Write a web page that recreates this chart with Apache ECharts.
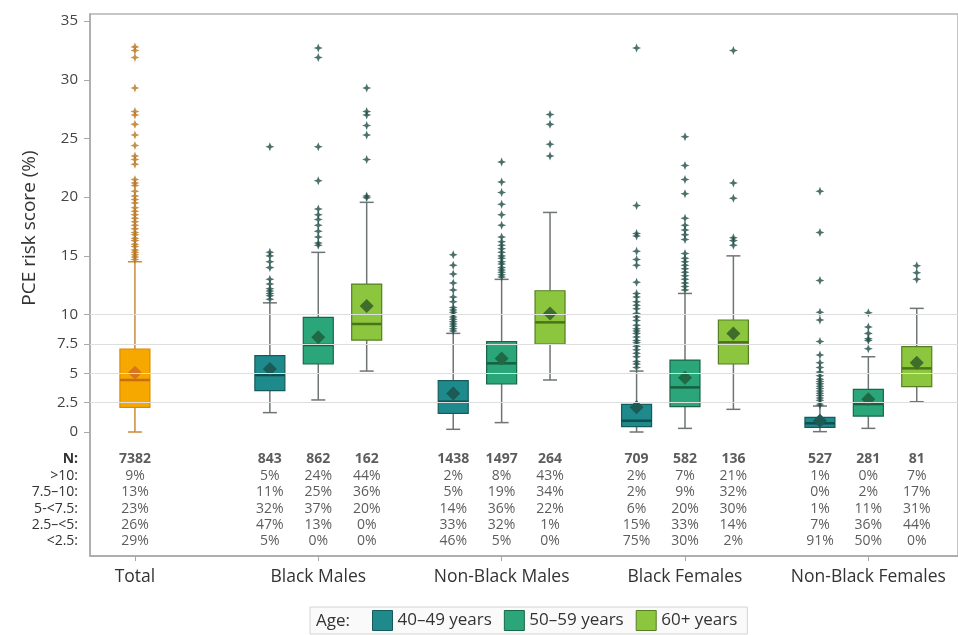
<!DOCTYPE html>
<html>
<head>
<meta charset="utf-8">
<script src="https://cdn.jsdelivr.net/npm/echarts@6/dist/echarts.min.js"></script>
<style>
  html, body { margin: 0; padding: 0; background: #fff; }
  #chart { width: 958px; height: 635px; }
</style>
</head>
<body>
<div id="chart"></div>
<script>
// groups on the x axis
const groups = ['Total', 'Black Males', 'Non-Black Males', 'Black Females', 'Non-Black Females'];
const ageNames = ['40–49 years', '50–59 years', '60+ years'];

// box stats: [low whisker, q1, median, q3, high whisker, mean]
const totalBox = [0.0, 2.1, 4.43, 7.07, 14.5, 5.05];
const age40Boxes = [
  [1.65, 3.52, 4.85, 6.5, 11.0, 5.36],
  [0.23, 1.59, 2.58, 4.37, 8.4, 3.29],
  [0.0, 0.45, 0.96, 2.36, 5.19, 2.1],
  [0.03, 0.4, 0.74, 1.25, 2.21, 0.96]
];
const age50Boxes = [
  [2.73, 5.79, 7.41, 9.77, 15.3, 8.06],
  [0.8, 4.09, 5.85, 7.69, 13.0, 6.27],
  [0.31, 2.16, 3.8, 6.13, 11.8, 4.62],
  [0.31, 1.36, 2.38, 3.63, 6.41, 2.78]
];
const age60Boxes = [
  [5.19, 7.83, 9.2, 12.6, 19.56, 10.73],
  [4.43, 7.49, 9.34, 12.03, 18.7, 10.1],
  [1.93, 5.79, 7.64, 9.54, 15.0, 8.4],
  [2.58, 3.86, 5.42, 7.27, 10.53, 5.9]
];

// outliers
const totalOut = [14.7, 14.9, 15.1, 15.3, 15.5, 15.8, 16.0, 16.3, 16.5, 16.8, 17.0, 17.3, 17.6, 17.9, 18.2, 18.5, 18.8, 19.1, 19.5, 19.8, 20.1, 20.5, 21.0, 21.2, 21.5, 22.8, 23.2, 23.5, 24.4, 25.3, 26.2, 27.0, 27.3, 29.3, 31.9, 32.5, 32.8];
const age40Out = [
  [11.3, 11.6, 11.8, 12.0, 12.2, 12.6, 13.0, 14.0, 14.5, 15.0, 15.3, 24.3],
  [8.6, 8.8, 9.0, 9.2, 9.4, 9.6, 9.8, 10.0, 10.2, 10.4, 10.6, 11.1, 11.5, 12.1, 12.7, 13.45, 14.2, 15.1],
  [5.5, 5.8, 6.0, 6.4, 6.7, 7.0, 7.3, 7.6, 7.8, 8.1, 8.4, 8.6, 8.8, 9.1, 9.5, 9.8, 10.1, 10.5, 10.8, 11.1, 11.5, 11.8, 12.75, 14.2, 14.7, 15.4, 16.7, 16.9, 19.3, 32.7],
  [2.3, 2.5, 2.7, 2.9, 3.1, 3.3, 3.5, 3.7, 3.9, 4.1, 4.3, 4.5, 4.8, 5.1, 5.5, 5.9, 6.56, 7.7, 9.54, 10.2, 12.9, 17.0, 20.5]
];
const age50Out = [
  [15.9, 16.1, 16.6, 17.1, 17.6, 18.1, 18.5, 19.0, 21.4, 24.3, 31.9, 32.7],
  [13.2, 13.4, 13.6, 13.8, 14.0, 14.3, 14.5, 14.8, 15.0, 15.3, 15.6, 15.9, 16.2, 16.6, 17.6, 18.5, 19.4, 20.4, 21.3, 23.0],
  [12.1, 12.4, 12.7, 13.0, 13.3, 13.6, 13.9, 14.2, 14.5, 14.8, 15.2, 16.4, 16.8, 17.2, 17.6, 18.2, 20.3, 21.5, 22.7, 25.15],
  [7.1, 7.8, 7.95, 8.4, 8.95, 10.16]
];
const age60Out = [
  [19.95, 20.1, 23.2, 25.3, 26.1, 27.0, 27.3, 29.3],
  [23.5, 24.5, 26.2, 27.05],
  [15.9, 16.3, 16.55, 19.9, 21.2, 32.5],
  [13.0, 13.56, 14.16]
];

// table below the boxes (box order: Total, then 3 ages per group)
const rowLabels = ['N:', '>10:', '7.5–10:', '5-<7.5:', '2.5–<5:', '<2.5:'];
const nCounts = [7382, 843, 862, 162, 1438, 1497, 264, 709, 582, 136, 527, 281, 81];
const pctGt10 = [9, 5, 24, 44, 2, 8, 43, 2, 7, 21, 1, 0, 7];
const pct75to10 = [13, 11, 25, 36, 5, 19, 34, 2, 9, 32, 0, 2, 17];
const pct5to75 = [23, 32, 37, 20, 14, 36, 22, 6, 20, 30, 1, 11, 31];
const pct25to5 = [26, 47, 13, 0, 33, 32, 1, 15, 33, 14, 7, 36, 44];
const pctLt25 = [29, 5, 0, 0, 46, 5, 0, 75, 30, 2, 91, 50, 0];

const yTicks = [0, 2.5, 5, 7.5, 10, 15, 20, 25, 30, 35];
const refLines = [2.5, 5, 7.5, 10];

// layout
const ageOffset = 0.264;
const tableRowY = [-2.3, -3.75, -5.13, -6.54, -7.92, -9.3];
const FONT = '"Open Sans", "Noto Sans", sans-serif';

const styles = {
  total: { fill: '#f6a800', border: '#d98c00', whisker: '#c98a3c', median: '#c46f0a', mean: '#d7761c', out: '#b8761f' },
  a40: { fill: '#1f8a8c', border: '#155b5c', whisker: '#6e7572', median: '#134e4e', mean: '#1b5a55', out: '#1f4c46' },
  a50: { fill: '#2aa67a', border: '#186747', whisker: '#6e7572', median: '#166041', mean: '#1f6a45', out: '#1f4c46' },
  a60: { fill: '#8cc63e', border: '#577f22', whisker: '#6e7572', median: '#4b7419', mean: '#3f6d2a', out: '#1f4c46' }
};

const boxX = (g, a) => g + (a - 1) * ageOffset;

const star = 'path://M0,-10 L2.8,-2.8 L10,0 L2.8,2.8 L0,10 L-2.8,2.8 L-10,0 L-2.8,-2.8 Z';

function makeRender(st) {
  return function (params, api) {
    const x = api.value(0);
    const low = api.coord([x, api.value(1)]);
    const q1 = api.coord([x, api.value(2)]);
    const med = api.coord([x, api.value(3)]);
    const q3 = api.coord([x, api.value(4)]);
    const high = api.coord([x, api.value(5)]);
    const mean = api.coord([x, api.value(6)]);
    const cx = low[0];
    const hw = 15, cap = 7, dm = 7;
    const wStyle = { stroke: st.whisker, lineWidth: 1.5 };
    return {
      type: 'group',
      children: [
        { type: 'line', shape: { x1: cx, y1: low[1], x2: cx, y2: q1[1] }, style: wStyle },
        { type: 'line', shape: { x1: cx, y1: q3[1], x2: cx, y2: high[1] }, style: wStyle },
        { type: 'line', shape: { x1: cx - cap, y1: low[1], x2: cx + cap, y2: low[1] }, style: wStyle },
        { type: 'line', shape: { x1: cx - cap, y1: high[1], x2: cx + cap, y2: high[1] }, style: wStyle },
        { type: 'rect', shape: { x: cx - hw, y: q3[1], width: hw * 2, height: q1[1] - q3[1] },
          style: { fill: st.fill, stroke: st.border, lineWidth: 1.2 } },
        { type: 'line', shape: { x1: cx - hw, y1: med[1], x2: cx + hw, y2: med[1] },
          style: { stroke: st.median, lineWidth: 2.5 } },
        { type: 'polygon', shape: { points: [[cx, mean[1] - dm], [cx + dm, mean[1]], [cx, mean[1] + dm], [cx - dm, mean[1]]] },
          style: { fill: st.mean } }
      ]
    };
  };
}

function boxSeries(name, st, data) {
  return {
    name: name,
    type: 'custom',
    renderItem: makeRender(st),
    itemStyle: { color: st.fill, borderColor: st.border },
    encode: { x: 0, y: [1, 2, 3, 4, 5] },
    data: data,
    z: 3
  };
}

function outSeries(name, st, data) {
  return {
    name: name,
    type: 'scatter',
    symbol: star,
    symbolSize: 9,
    itemStyle: { color: st.out },
    data: data,
    z: 4
  };
}

const totalData = [[0].concat(totalBox)];
const ageData = (boxes, a) => boxes.map((b, i) => [boxX(i + 1, a)].concat(b));
const outData = (lists, a) => lists.flatMap((l, i) => l.map(v => [boxX(i + 1, a), v]));

// table cells
const boxXs = [0];
for (let g = 1; g <= 4; g++) for (let a = 0; a < 3; a++) boxXs.push(boxX(g, a));
const tableRows = [nCounts.map(String), pctGt10, pct75to10, pct5to75, pct25to5, pctLt25];
const tableData = [];
tableRows.forEach((row, r) => {
  row.forEach((v, i) => {
    tableData.push({ value: [boxXs[i], tableRowY[r]], text: r === 0 ? '{b|' + v + '}' : v + '%' });
  });
});

const chart = echarts.init(document.getElementById('chart'), null, { renderer: 'canvas' });

chart.setOption({
  animation: false,
  textStyle: { fontFamily: FONT },
  grid: {
    left: 90, right: -3, top: 14, bottom: 79,
    show: true, borderColor: '#b4b4b4', borderWidth: 1.5, backgroundColor: 'transparent'
  },
  xAxis: {
    type: 'value',
    min: -0.245,
    max: 4.489,
    splitLine: { show: false },
    axisLine: { onZero: false, lineStyle: { color: '#a8a8a8', width: 1.5 } },
    axisTick: { customValues: [0, 1, 2, 3, 4], length: 5, lineStyle: { color: '#a8a8a8' } },
    axisLabel: {
      customValues: [0, 1, 2, 3, 4],
      formatter: v => groups[Math.round(v)],
      fontSize: 17.5, color: '#333', margin: 12, fontFamily: FONT
    }
  },
  yAxis: {
    type: 'value',
    min: -10.56,
    max: 35.6,
    splitLine: { show: false },
    axisLine: { show: true, onZero: false, lineStyle: { color: '#a8a8a8', width: 1.5 } },
    axisTick: { show: true, customValues: yTicks, length: 6, lineStyle: { color: '#a8a8a8' } },
    axisLabel: {
      customValues: yTicks.concat(tableRowY),
      formatter: function (v) {
        const i = tableRowY.indexOf(v);
        if (i === 0) return '{b|' + rowLabels[0] + '}';
        if (i > 0) return '{t|' + rowLabels[i] + '}';
        return String(v);
      },
      fontSize: 15, color: '#444', margin: 12, fontFamily: FONT,
      rich: {
        b: { fontSize: 14, fontWeight: 'bold', color: '#333', fontFamily: FONT },
        t: { fontSize: 14, color: '#333', fontFamily: FONT }
      }
    }
  },
  legend: {
    left: 310,
    top: 607,
    orient: 'horizontal',
    backgroundColor: '#fafafa',
    borderColor: '#d4d4d4',
    borderWidth: 1,
    padding: [3, 10, 3, 62],
    itemWidth: 20,
    itemHeight: 20,
    itemGap: 12,
    icon: 'rect',
    textStyle: { fontSize: 17, color: '#333', fontFamily: FONT },
    data: [
      { name: ageNames[0], itemStyle: { color: styles.a40.fill, borderColor: styles.a40.border, borderWidth: 1 } },
      { name: ageNames[1], itemStyle: { color: styles.a50.fill, borderColor: styles.a50.border, borderWidth: 1 } },
      { name: ageNames[2], itemStyle: { color: styles.a60.fill, borderColor: styles.a60.border, borderWidth: 1 } }
    ]
  },
  graphic: [
    {
      type: 'text', x: 30, y: 228, rotation: Math.PI / 2, z: 100,
      style: { text: 'PCE risk score (%)', fontSize: 19, fill: '#333', fontFamily: FONT, align: 'center', verticalAlign: 'middle' }
    },
    {
      type: 'text', x: 316, y: 621, z: 100,
      style: { text: 'Age:', fontSize: 17, fill: '#333', fontFamily: FONT, align: 'left', verticalAlign: 'middle' }
    }
  ],
  series: [
    boxSeries('Total', styles.total, totalData),
    boxSeries(ageNames[0], styles.a40, ageData(age40Boxes, 0)),
    boxSeries(ageNames[1], styles.a50, ageData(age50Boxes, 1)),
    boxSeries(ageNames[2], styles.a60, ageData(age60Boxes, 2)),
    outSeries('Total', styles.total, totalOut.map(v => [0, v])),
    outSeries(ageNames[0], styles.a40, outData(age40Out, 0)),
    outSeries(ageNames[1], styles.a50, outData(age50Out, 1)),
    outSeries(ageNames[2], styles.a60, outData(age60Out, 2)),
    {
      name: 'table',
      type: 'scatter',
      silent: true,
      symbolSize: 1,
      z: 1,
      itemStyle: { color: 'transparent' },
      data: tableData,
      label: {
        show: true,
        position: 'inside',
        formatter: p => p.data.text,
        fontSize: 14, color: '#333', fontFamily: FONT,
        rich: { b: { fontSize: 14, fontWeight: 'bold', color: '#333', fontFamily: FONT } }
      },
      markLine: {
        silent: true,
        symbol: 'none',
        label: { show: false },
        lineStyle: { color: '#dedede', type: 'solid', width: 1 },
        data: refLines.map(v => ({ yAxis: v }))
      }
    }
  ]
});
</script>
</body>
</html>
